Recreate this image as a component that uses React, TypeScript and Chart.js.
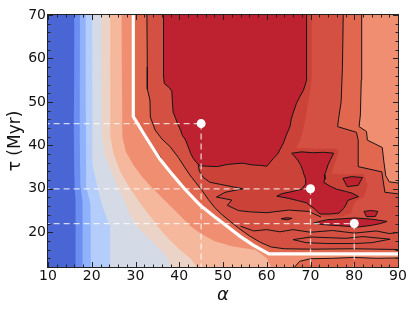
import React, { useEffect, useRef } from "react";
import { Chart, registerables } from "chart.js";

Chart.register(...registerables);

type P = [number, number];

// ---- axes ----
const alphaTicks = [10, 20, 30, 40, 50, 60, 70, 80, 90];
const tauTicks = [20, 30, 40, 50, 60, 70];
const alphaRange: P = [10, 90];
const tauRange: P = [12, 70];

// ---- filled-contour band edges, (alpha, tau), top -> bottom ----
const edge1: P[] = [[16, 70], [16, 58], [15.9, 45], [16, 34], [16.1, 30], [16.3, 27.5], [16.3, 20], [16.3, 12]];
const edge2: P[] = [[17.3, 70], [17.3, 55], [17.2, 42], [17.4, 30.5], [17.7, 28.5], [17.9, 27], [17.9, 18], [17.9, 12]];
const edge3: P[] = [[18.6, 70], [18.6, 52], [18.7, 40], [18.7, 30.5], [19.2, 28.6], [19.7, 26.5], [19.8, 18], [19.8, 12]];
const edge4: P[] = [[20.1, 70], [20.1, 55], [20.1, 45], [20.2, 36], [20.6, 33.6], [21.3, 30.5], [22, 27.4], [23, 24.4], [24.2, 21.3], [24.2, 16], [24.2, 12]];
const edge5: P[] = [[22.1, 70], [22.2, 55], [22.3, 42.4], [23, 37.8], [24.2, 34.7], [25.7, 30.9], [27.2, 27.8], [28.4, 24.7], [29.9, 21.7], [32.2, 19.4], [34.5, 17.2], [36.2, 15.5], [37.5, 13.5], [38.5, 12]];
const edge6: P[] = [[24.2, 70], [24.2, 55], [24.3, 42], [25, 38], [26.5, 34], [28.5, 30.5], [30.5, 27.5], [32.5, 24.8], [34.5, 22.2], [36.3, 19.8], [38.5, 17.5], [40.2, 15.9], [42.5, 14], [44.7, 12]];
const edge7: P[] = [[26.8, 70], [26.9, 55], [27, 42], [27.8, 38.5], [29.5, 35.5], [31.5, 32.8], [34, 30], [37, 27], [40, 24], [42.5, 21.5], [44.7, 19.8], [48, 18], [52, 16.8], [57.5, 15.9], [60, 14], [61.5, 12]];

// white threshold curve
const whiteCurve: P[] = [[29.5, 70], [29.5, 46.6], [32, 42.5], [35.6, 36.8], [38.5, 33.2], [41.2, 30], [44.7, 26.3], [48, 23.6], [51, 21.3], [54, 19], [57, 17], [60.5, 15], [90, 15]];

const level8Right: P[] = [[81.7, 70], [81.6, 55], [81.4, 47], [81.1, 44.3], [82.8, 43.2], [83, 41.2], [86.4, 39.5], [86.8, 36], [87.2, 33], [88, 31.6], [90, 31.2]];
const level8Strip: P[] = [[65.5, 12], [67.5, 13.3], [70, 13.9], [75, 14], [80, 14.2], [85, 14], [90, 14.1], [90, 12]];

const level9Left: P[] = [[32.6, 70], [32.7, 58], [32.7, 53], [33.3, 50.4], [33.4, 46.5], [34.5, 43.5], [36, 41.5], [37.9, 39.7], [39.8, 37.2], [41.2, 35], [42.4, 33.2], [43.8, 31.4], [45.3, 29.5], [46.6, 27.6], [48, 25.8], [49.6, 24.2], [51.5, 22.6], [53.5, 21], [56, 19.2], [58.5, 17.7], [61, 16.6], [64, 16.2], [70, 16.1], [80, 16.2], [90, 16]];
const level9Right: P[] = [[77.5, 70], [77.3, 58], [77, 50], [76.4, 46], [76.2, 44.3], [80.5, 43], [80.9, 41.2], [80.9, 35.1], [86.3, 33.9], [87, 29.2], [90, 28.7]];

const level10Strip: P[] = [[69.1, 70], [70.3, 70], [70.3, 56], [70, 53], [69.5, 50], [69, 47], [68.5, 44.5], [67.8, 41.5], [66.8, 39.6]];
const level10Halo: P[] = [[66.2, 39.4], [71, 39.3], [75.8, 39.3], [76.5, 38.6], [75.5, 35.6], [74.8, 33.6], [76.8, 33.3], [82.3, 33.4], [83, 30.8], [82.3, 28.3], [80.4, 27.2], [79.7, 25.8], [79.3, 24.3], [77, 23.6], [72.4, 23.5]];
const level10Fingers: P[] = [[72.4, 23.5], [69.5, 24.8], [65, 25.1], [60, 24.5], [56, 24.7], [53.5, 25], [51, 26.2], [52, 27.4], [48.5, 28.1], [50.5, 29.2], [54.5, 30], [49.5, 31], [47, 31.5], [45.5, 32.6], [44.6, 34], [44.3, 35.6]];
const level10Inner: P[] = [[43.6, 36.4], [42.6, 38.2], [41.7, 40.3], [40.6, 42.4], [39.5, 45], [38.7, 47.6], [38.5, 52.5], [36.8, 54], [36.8, 70]];

const peakBlob: P[] = [[36.4, 70], [36.4, 56], [36.6, 54.2], [37.6, 53.4], [38.3, 52.5], [38.4, 50.5], [38.6, 47.6], [39.1, 46.4], [39.6, 45], [40.3, 43.5], [40.7, 42.3], [41.4, 41.3], [41.8, 40.3], [42.3, 39], [42.6, 38.1], [43.2, 37], [43.8, 36.2], [44.7, 35.3], [46.5, 35.2], [48.6, 35.1], [51, 35.6], [53, 35.8], [54.6, 35.9], [56.5, 35.5], [58.5, 35.4], [60, 35.2], [60.7, 36], [61.5, 37], [62.5, 38], [63, 39], [63.8, 40.5], [64.4, 42.2], [65.3, 44.3], [65.6, 46], [66, 47.4], [66.8, 49.7], [67.6, 51.3], [68.4, 52.7], [69.1, 55], [69.1, 70]];
const peakAnvil: P[] = [[65.7, 38.2], [68, 38.5], [70.5, 38.3], [73, 38.4], [75.3, 38.2], [74.6, 36.8], [74, 35.5], [73.6, 34.2], [73.2, 33.2], [73.3, 32.2], [73, 31.5], [74.5, 30.6], [76, 29.9], [78, 29.4], [79.5, 29], [81, 28.2], [79.5, 27.7], [78.5, 27.3], [78.2, 26.5], [77.6, 25.5], [76.5, 24.4], [74.5, 24.2], [72.2, 24.2], [71.5, 24.8], [70.8, 25.5], [69.8, 26.2], [69, 26.8], [67, 27.3], [65, 27.8], [62.3, 28.3], [63.5, 28.9], [65.5, 29.3], [68, 29.9], [68.8, 31], [68.9, 32.2], [68.5, 33.3], [68.2, 34.3], [67.8, 35.4], [67.2, 36.4], [66.5, 37.3]];
const peakIsle1: P[] = [[77.4, 32.4], [79.4, 32.8], [81.9, 32.6], [80.9, 30.8], [78.4, 30.5]];
const peakIsle2: P[] = [[82.2, 24.8], [83.8, 25], [85.4, 24.8], [84.8, 23.6], [82.8, 23.6]];
const peakIsle3: P[] = [[70.7, 22.1], [72.5, 22.6], [74, 22.9], [77, 23.1], [80.2, 23.3], [84, 23], [87.5, 22.5], [86, 22], [84, 21.6], [81, 21.2], [78, 21.4], [75, 21.6], [72.5, 21.8]];
const peakIsle4: P[] = [[63.3, 23.1], [64.5, 23.35], [65.8, 23.2], [64.6, 22.85]];

// extra contour lines
const bendLine: P[] = [[29.6, 46.9], [30.4, 45.3], [32.3, 42.4], [34.2, 39.4], [35.9, 37]];
const lowLine: P[] = [[54, 21.4], [57, 20.3], [60, 20.6], [63, 20.1], [66, 20.6], [70, 20], [75, 20.4], [80, 19.8], [85, 20.3], [88, 19.7], [90, 20]];
const lensLine: P[] = [[66, 18.3], [70, 18.9], [78, 18.6], [82, 19], [88.2, 18.4], [84, 17.6], [80, 17.4], [74, 17.4], [69, 17.6], [66, 18.3]];

// marked models
const markAlpha = [45, 70, 80];
const markTau = [45, 30, 22];

const bandColors = ["#4a66d4", "#6c8ef0", "#90b2fd", "#b4cdfa", "#d4dbe6", "#ebd4c7", "#f5b89d", "#f08e71", "#e1674f", "#d45042", "#cb4239", "#be2230"];

const ext = ([a, t]: P): P => [
  a >= alphaRange[1] ? alphaRange[1] + 1 : a <= alphaRange[0] ? alphaRange[0] - 1 : a,
  t >= tauRange[1] ? tauRange[1] + 1 : t <= tauRange[0] ? tauRange[0] - 1 : t,
];
const toXY = (pts: P[]) => pts.map(ext).map(([x, y]) => ({ x, y }));
const closed = (pts: P[]) => toXY([...pts, pts[0]]);

const fillSet = (pts: P[], color: string, stroke = false) => ({
  data: closed(pts),
  fill: "shape",
  backgroundColor: color,
  borderColor: stroke ? "#151515" : "rgba(0,0,0,0)",
  borderWidth: stroke ? 1 : 0,
  pointRadius: 0,
  tension: 0,
});
const lineSet = (pts: P[], color: string, width: number, dash: number[] = []) => ({
  data: toXY(pts),
  fill: false,
  borderColor: color,
  borderWidth: width,
  borderDash: dash,
  pointRadius: 0,
  tension: 0,
});

const framePlugin = {
  id: "frameTicks",
  afterDatasetsDraw(chart: any) {
    const { ctx, chartArea: a, scales } = chart;
    const x = scales.x;
    const y = scales.y;
    ctx.save();
    ctx.strokeStyle = "#222";
    ctx.lineWidth = 1;
    ctx.beginPath();
    for (let v = alphaRange[0]; v <= alphaRange[1]; v += 2) {
      const px = Math.round(x.getPixelForValue(v)) + 0.5;
      const L = v % 10 === 0 ? 5 : 2.5;
      ctx.moveTo(px, a.bottom);
      ctx.lineTo(px, a.bottom - L);
      ctx.moveTo(px, a.top);
      ctx.lineTo(px, a.top + L);
    }
    for (let v = tauRange[0]; v <= tauRange[1]; v += 2) {
      const py = Math.round(y.getPixelForValue(v)) + 0.5;
      const L = v % 10 === 0 ? 5 : 2.5;
      ctx.moveTo(a.left, py);
      ctx.lineTo(a.left + L, py);
      ctx.moveTo(a.right, py);
      ctx.lineTo(a.right - L, py);
    }
    ctx.stroke();
    ctx.strokeRect(a.left - 0.5, a.top - 0.5, a.right - a.left + 1, a.bottom - a.top + 1);
    ctx.restore();
  },
};

export default function App() {
  const ref = useRef<HTMLCanvasElement | null>(null);

  useEffect(() => {
    document.body.style.margin = "0";
    const canvas = ref.current;
    if (!canvas) return;

    const full: P[] = [[alphaRange[0], tauRange[1]], [alphaRange[1], tauRange[1]], [alphaRange[1], tauRange[0]], [alphaRange[0], tauRange[0]]];
    const rightSide: P[] = [[alphaRange[1], tauRange[0]], [alphaRange[1], tauRange[1]]];
    const edges = [edge1, edge2, edge3, edge4, edge5, edge6, edge7];

    const layers: any[] = [];
    layers.push(fillSet(full, bandColors[0]));
    edges.forEach((e, i) => layers.push(fillSet([...e, ...rightSide], bandColors[i + 1])));
    layers.push(fillSet([...whiteCurve, ...[...level8Right].reverse()], bandColors[8], true));
    layers.push(fillSet(level8Strip, bandColors[8], true));
    layers.push(fillSet([...level9Left, ...[...level9Right].reverse()], bandColors[9], true));
    layers.push(fillSet([...level10Strip, ...level10Halo, ...level10Fingers, ...level10Inner], bandColors[10]));
    layers.push(lineSet(level10Fingers, "#151515", 1));
    layers.push(lineSet(lowLine, "#151515", 1));
    layers.push(lineSet(lensLine, "#151515", 1));
    [peakBlob, peakAnvil, peakIsle1, peakIsle2, peakIsle3, peakIsle4].forEach((p) => layers.push(fillSet(p, bandColors[11], true)));
    layers.push(lineSet(bendLine, "#151515", 1));
    layers.push(lineSet(whiteCurve, "#ffffff", 3.2));

    const dashColor = "rgba(255,255,255,0.75)";
    markAlpha.forEach((a, i) => {
      const t = markTau[i];
      layers.push(lineSet([[alphaRange[0], t], [a, t]], dashColor, 1.3, [6, 4]));
      layers.push(lineSet([[a, t], [a, tauRange[0]]], dashColor, 1.3, [6, 4]));
    });
    layers.push({
      data: markAlpha.map((a, i) => ({ x: a, y: markTau[i] })),
      showLine: false,
      pointRadius: 4.5,
      pointBackgroundColor: "#ffffff",
      pointBorderColor: "#ffffff",
      pointBorderWidth: 0,
      fill: false,
    });

    const n = layers.length;
    layers.forEach((d, i) => (d.order = n - i));

    const tickFont = { family: "DejaVu Sans", size: 14 };

    const chart = new Chart(canvas, {
      type: "line",
      data: { datasets: layers },
      plugins: [framePlugin],
      options: {
        animation: false,
        responsive: false,
        devicePixelRatio: 1,
        layout: { padding: { top: 15, right: 17, left: 0, bottom: 0 } },
        plugins: { legend: { display: false }, tooltip: { enabled: false } },
        events: [],
        scales: {
          x: {
            type: "linear",
            min: alphaRange[0],
            max: alphaRange[1],
            afterBuildTicks: (s: any) => {
              s.ticks = alphaTicks.map((v) => ({ value: v }));
            },
            afterFit: (s: any) => {
              s.height = 45;
            },
            grid: { display: false, drawTicks: false },
            border: { display: false },
            ticks: { font: tickFont, color: "#111", padding: 1, maxRotation: 0, autoSkip: false },
            title: {
              display: true,
              text: "α",
              color: "#111",
              font: { family: "DejaVu Sans", size: 18, style: "italic" },
              padding: { top: 0, bottom: 6 },
            },
          },
          y: {
            type: "linear",
            min: tauRange[0],
            max: tauRange[1],
            afterBuildTicks: (s: any) => {
              s.ticks = tauTicks.map((v) => ({ value: v }));
            },
            afterFit: (s: any) => {
              s.width = 48;
            },
            grid: { display: false, drawTicks: false },
            border: { display: false },
            ticks: { font: tickFont, color: "#111", padding: 2, autoSkip: false },
            title: {
              display: true,
              text: "τ (Myr)",
              color: "#111",
              font: { family: "DejaVu Sans", size: 17 },
              padding: { top: 5, bottom: 0 },
            },
          },
        },
      } as any,
    });

    return () => chart.destroy();
  }, []);

  return (
    <div style={{ width: 415, height: 312 }}>
      <canvas ref={ref} width={415} height={312} style={{ display: "block" }} />
    </div>
  );
}
